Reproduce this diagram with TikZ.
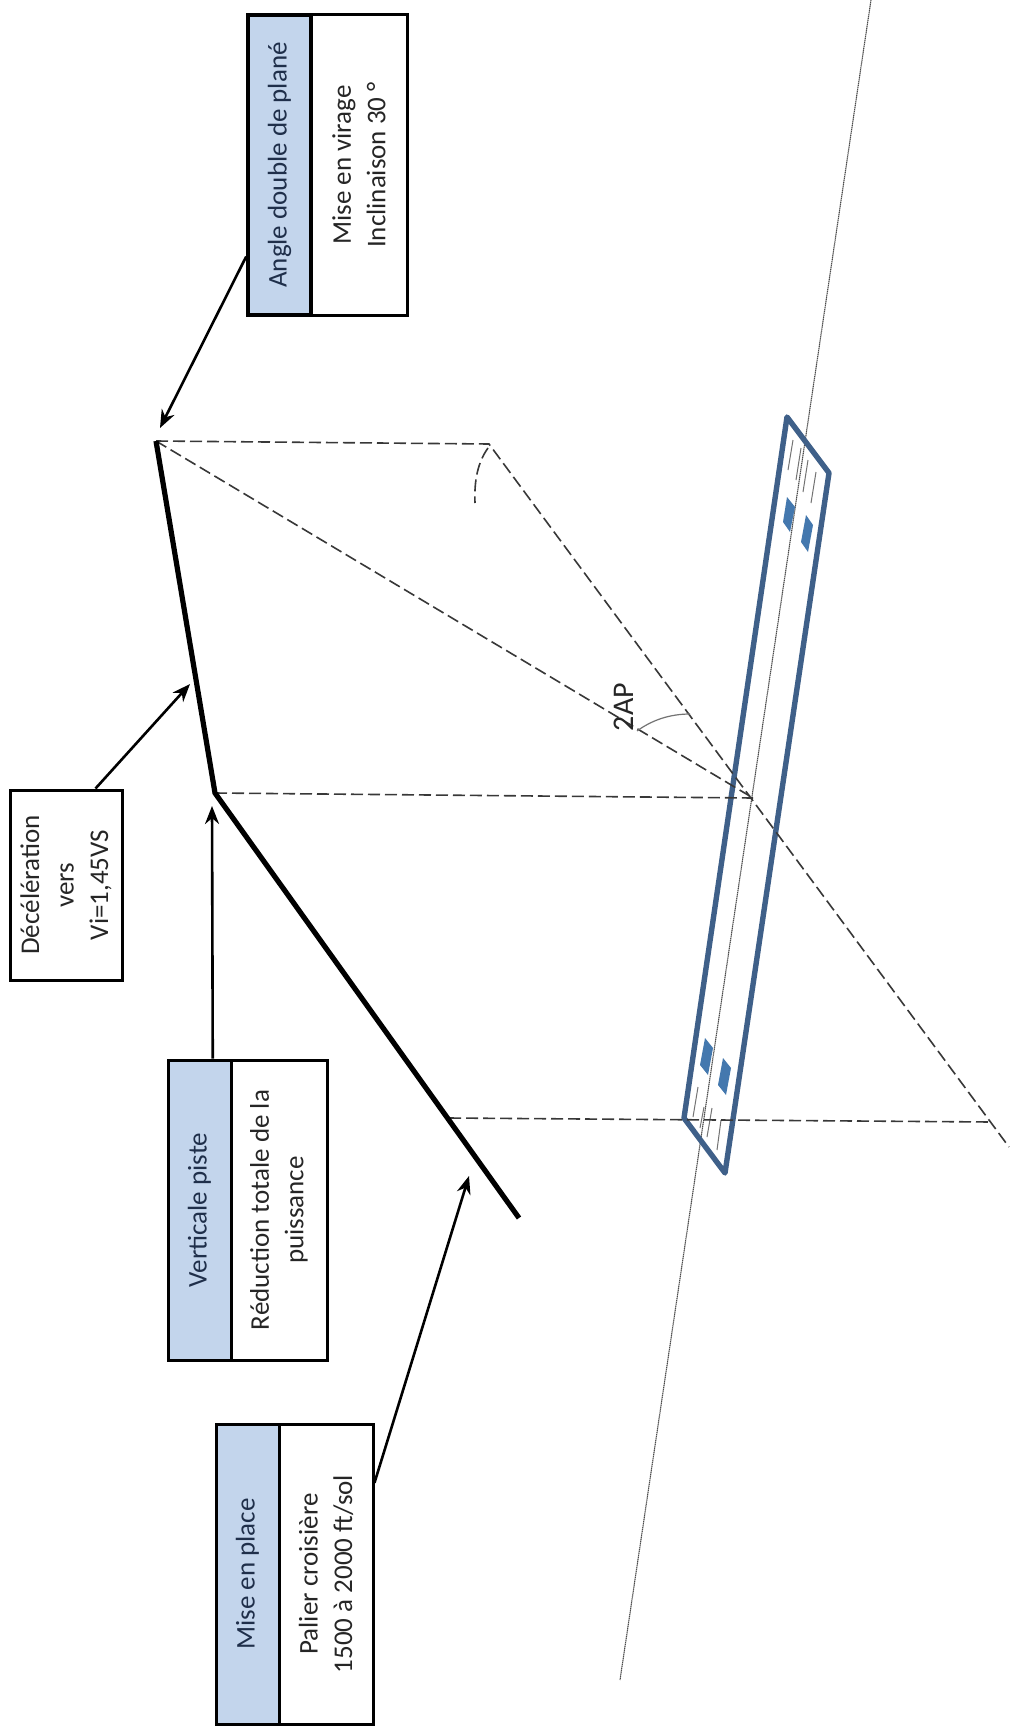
\documentclass[tikz,border=0pt]{standalone}
\usepackage{fontspec}
\setmainfont{Carlito}
\usetikzlibrary{arrows.meta}
\definecolor{hdrblue}{HTML}{C3D5EC}
\definecolor{hdrink}{HTML}{1F2F4A}
\definecolor{strip}{HTML}{3F6089}
\definecolor{mark}{HTML}{4478AE}
\tikzset{
  boxbase/.style={draw=black,line width=3pt,rotate=90,inner sep=0pt,align=center,font=\fontsize{27}{34.5}\selectfont},
  hdrbox/.style={boxbase,fill=hdrblue,text=hdrink},
  bodybox/.style={boxbase,fill=white,text=black!85},
  callout/.style={draw=black,line width=2.6pt,-{Stealth[length=18pt,width=14pt]}},
  flight/.style={draw=black,line width=5.2pt,line join=miter},
  guide/.style={draw=black!78,line width=1.6pt,dash pattern=on 12pt off 5pt},
  axisline/.style={draw=black!70,line width=1.1pt,dash pattern=on 1.4pt off .6pt},
  stripe/.style={draw=strip,line width=5.4pt,line join=round},
  thr/.style={fill=mark},
  tick/.style={draw=black!55,line width=1pt},
  anglemark/.style={draw=black!55,line width=1.2pt}
}
\begin{document}
\begin{tikzpicture}[x=1pt,y=-1pt]
\useasboundingbox (0,0) rectangle (1017,1731);
\fill[white] (0,0) rectangle (1017,1731);
% axis of the runway
\coordinate (axA) at (871,0);
\coordinate (axB) at (620,1680);
\draw[axisline] (axA) -- (axB);
% runway
\coordinate (r1) at (787,417);
\coordinate (r2) at (829,473);
\coordinate (r3) at (725,1173);
\coordinate (r4) at (684,1118);
\draw[stripe] (r1) -- (r2) -- (r3) -- (r4) -- cycle;
\fill[thr] (787,497) -- (795,507) -- (790,532) -- (783,522) -- cycle;
\fill[thr] (806,515) -- (813,525) -- (808,552) -- (801,542) -- cycle;
\fill[thr] (705,1038) -- (713,1048) -- (708,1075) -- (700,1065) -- cycle;
\fill[thr] (723,1058) -- (731,1068) -- (726,1095) -- (718,1085) -- cycle;
\draw[tick] (793,440) -- (788,470);
\draw[tick] (801,448) -- (796,480);
\draw[tick] (808,460) -- (803,492);
\draw[tick] (816,472) -- (811,503);
\draw[tick] (698,1087) -- (693,1117);
\draw[tick] (704,1107) -- (700,1128);
\draw[tick] (712,1108) -- (707,1137);
\draw[tick] (721,1120) -- (717,1150);
% flight path points
\coordinate (pTurn) at (156,441);
\coordinate (pVert) at (215,793);
\coordinate (pEnd) at (519,1218);
\coordinate (pDrop) at (449,1118);
\coordinate (gBase) at (489,444);
\coordinate (gMid) at (753,798);
\coordinate (gFar) at (992,1122);
\coordinate (gEnd) at (1009,1147);
% guides
\draw[guide] (pTurn) -- (gBase) -- (gEnd);
\draw[guide] (pTurn) -- (gMid);
\draw[guide] (pVert) -- (gMid);
\draw[guide] (pDrop) -- (gFar);
\draw[guide] (488,448) .. controls (478,462) and (474,480) .. (475,503);
\draw[anglemark] (637,731) .. controls (652,720) and (670,714) .. (690,714);
\node[rotate=90,font=\fontsize{30}{34}\selectfont,text=black!85,inner sep=0pt] (lab2AP) at (624,707) {2AP};
% flight path
\draw[flight] (pTurn) -- (pVert) -- (pEnd);
% boxes
\node[bodybox,minimum width=300pt,minimum height=96pt] (bA) at (359,165) {Mise en virage\\Inclinaison 30 °};
\node[hdrbox,minimum width=300pt,minimum height=63pt,line width=3.6pt] (hA) at (279.5,165) {Angle double de plané};
\node[bodybox,minimum width=190pt,minimum height=112pt] (bD) at (66,885) {Décélération\\vers\\Vi=1,45VS};
\node[bodybox,minimum width=300pt,minimum height=96pt] (bV) at (279,1210) {Réduction totale de la\\puissance};
\node[hdrbox,minimum width=300pt,minimum height=63pt] (hV) at (199.5,1210) {Verticale piste};
\node[bodybox,minimum width=300pt,minimum height=94pt] (bM) at (326,1574) {Palier croisière\\1500 à 2000 ft/sol};
\node[hdrbox,minimum width=300pt,minimum height=63pt] (hM) at (247.5,1574) {Mise en place};
% arrow tips
\coordinate (tA) at (160,428);
\coordinate (tD) at (190,684);
\coordinate (tV) at (212,806);
\coordinate (tM) at (469,1176);
\draw[callout] (hA.160.7) -- (tA);
\draw[callout] (bD.-17) -- (tD);
\draw[callout] (hV.-5.5) -- (tV);
\draw[callout] (bM.-28.7) -- (tM);
\end{tikzpicture}
\end{document}
